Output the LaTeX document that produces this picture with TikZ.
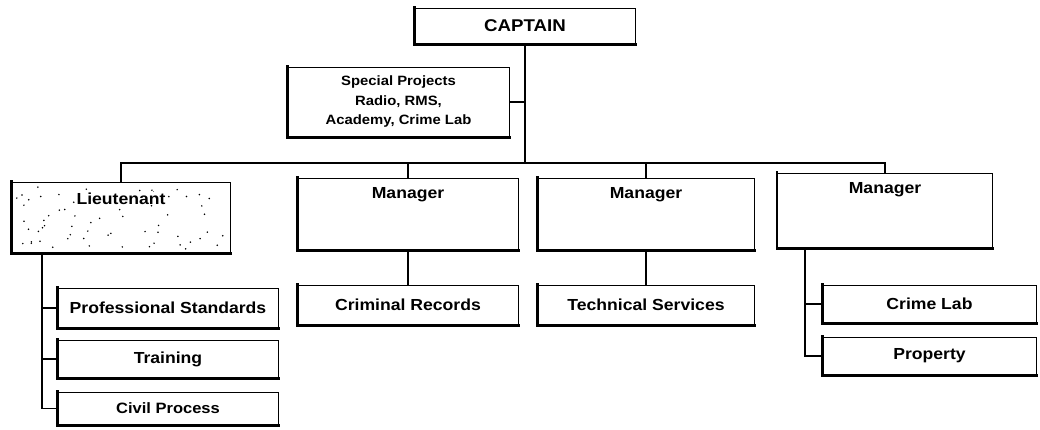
\documentclass[tikz,border=0pt]{standalone}
\usepackage{fontspec}
\setmainfont{Liberation Sans}[FakeStretch=1.1]
\begin{document}
\begin{tikzpicture}[x=1pt,y=-1pt,
  box/.style={draw=black, line width=0.9pt, fill=white, inner sep=0pt, font=\fontsize{16}{18}\selectfont\bfseries},
  lbl/.style={font=\fontsize{16}{18}\selectfont\bfseries},
  conn/.style={draw=black, line width=1.1pt},
  shadowedge/.style={draw=black, line width=2.2pt, line cap=rect},
  dotfill/.style={fill=black}
]
\useasboundingbox (0,0) rectangle (1040,429);

% top level
\node[box, minimum width=220pt, minimum height=36pt, font=\fontsize{17}{18}\selectfont\bfseries] (cap) at (525,26) {CAPTAIN};
\node[box, minimum width=221pt, minimum height=70pt, align=center, font=\fontsize{13.5}{19.5}\selectfont\bfseries] (sp) at (398.5,102) {Special Projects\\Radio, RMS,\\Academy, Crime Lab};

% second level
\node[box, minimum width=218pt, minimum height=71pt] (lt) at (121,217.5) {};
\node[box, minimum width=220pt, minimum height=72pt] (m1) at (408,214) {};
\node[box, minimum width=216pt, minimum height=72pt] (m2) at (646,214) {};
\node[box, minimum width=215pt, minimum height=75pt] (m3) at (885,210.5) {};

% stipple in lieutenant box
\pgfmathsetseed{7}
\foreach \i in {1,...,70}{
  \pgfmathsetmacro{\dx}{16+rnd*210}
  \pgfmathsetmacro{\dy}{186+rnd*63}
  \fill[dotfill] (\dx,\dy) circle (0.85pt);
}

\node[lbl, fill=white, inner sep=1pt] (ltt) at (lt.north) [yshift=-17pt] {Lieutenant};
\node[lbl] (m1t) at (m1.north) [yshift=-17pt] {Manager};
\node[lbl] (m2t) at (m2.north) [yshift=-17pt] {Manager};
\node[lbl] (m3t) at (m3.north) [yshift=-17pt] {Manager};

% third level
\node[box, minimum width=220pt, minimum height=40pt] (ps) at (168,308) {Professional Standards};
\node[box, minimum width=220pt, minimum height=38pt] (tr) at (168,359) {Training};
\node[box, minimum width=220pt, minimum height=33pt, font=\fontsize{15}{17}\selectfont\bfseries] (cv) at (168,408.5) {Civil Process};
\node[box, minimum width=220pt, minimum height=40pt] (cr) at (408,305) {Criminal Records};
\node[box, minimum width=216pt, minimum height=40pt] (ts) at (646,305) {Technical Services};
\node[box, minimum width=213pt, minimum height=38pt] (cl) at (929.5,304) {Crime Lab};
\node[box, minimum width=213pt, minimum height=38pt] (pr) at (929.5,356) {Property};

% heavy edges
\foreach \n in {cap,sp,lt,m1,m2,m3,ps,tr,cv,cr,ts,cl,pr}{
  \draw[shadowedge] (\n.north west) -- (\n.south west) -- (\n.south east);
}

% connectors
\coordinate (busL) at (121,163);
\coordinate (busR) at (885,163);
\coordinate (ltx) at (42,0);
\coordinate (m3x) at (805,0);

\draw[conn] (cap.south) -- (cap.south |- busL);
\draw[conn] (sp.east) -- (sp.east -| cap.south);
\draw[conn] (lt.north) -- (busL) -- (busR) -- (m3.north);
\draw[conn] (m1.north) -- (m1.north |- busL);
\draw[conn] (m2.north) -- (m2.north |- busL);

\draw[conn] (ltx |- lt.south) |- (cv.west);
\draw[conn] (ltx |- ps.west) -- (ps.west);
\draw[conn] (ltx |- tr.west) -- (tr.west);

\draw[conn] (m1.south) -- (cr.north);
\draw[conn] (m2.south) -- (ts.north);

\draw[conn] (m3x |- m3.south) |- (pr.west);
\draw[conn] (m3x |- cl.west) -- (cl.west);
\end{tikzpicture}
\end{document}
